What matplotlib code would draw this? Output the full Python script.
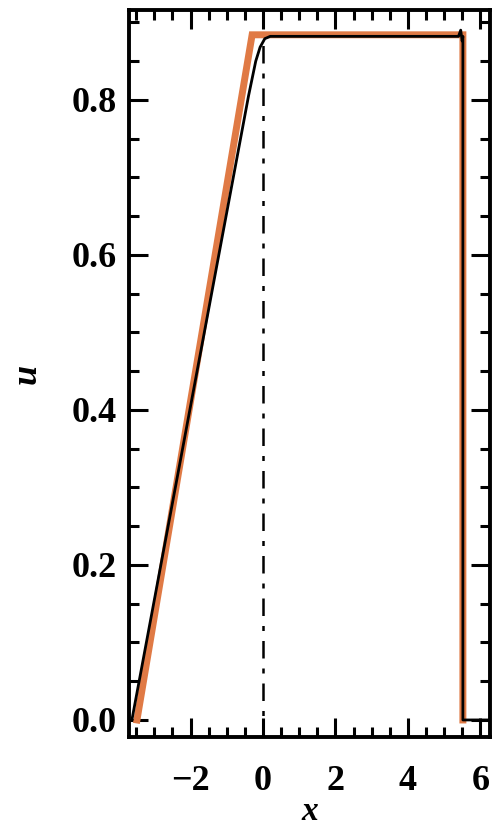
import matplotlib
matplotlib.use("Agg")
import matplotlib.pyplot as plt
from matplotlib.ticker import MultipleLocator

# exact (orange) solution
x_exact = [-3.48, -0.30, 5.52, 5.52]
u_exact = [0.0, 0.884, 0.884, 0.0]

# numerical (black) solution
x_num = [-3.62, -3.2, -2.0, -1.0, -0.4, -0.2, -0.08, 0.05, 0.2, 1.0, 2.0, 3.0, 4.0, 5.0, 5.40, 5.46, 5.50, 5.52, 5.52, 5.60, 6.3]
u_num = [0.0, 0.105, 0.405, 0.655, 0.805, 0.850, 0.868, 0.879, 0.882, 0.882, 0.882, 0.882, 0.882, 0.882, 0.882, 0.890, 0.876, 0.882, 0.0, 0.0, 0.0]

x_ticks = [-2, 0, 2, 4, 6]
y_ticks = [0.0, 0.2, 0.4, 0.6, 0.8]
y_ticklabels = ["0.0", "0.2", "0.4", "0.6", "0.8"]

fig = plt.figure(figsize=(4.95, 8.4), dpi=100)
ax = fig.add_axes([0.2606, 0.1226, 0.7294, 0.8655])

font = dict(family="Liberation Serif", weight="bold")

ax.plot(x_exact, u_exact, color="#e07a45", lw=5.0, solid_joinstyle="miter", zorder=2)
ax.plot(x_num, u_num, color="black", lw=2.0, zorder=3)
ax.plot([0, 0], [-0.03, 0.88], color="black", lw=1.8, ls=(0, (7, 4, 2, 4)), zorder=1)

ax.set_xlim(-3.70, 6.27)
ax.set_ylim(-0.022, 0.916)

ax.xaxis.set_major_locator(MultipleLocator(2))
ax.xaxis.set_minor_locator(MultipleLocator(0.5))
ax.yaxis.set_major_locator(MultipleLocator(0.2))
ax.yaxis.set_minor_locator(MultipleLocator(0.05))
ax.set_xticks(x_ticks)
ax.set_yticks(y_ticks)
ax.set_yticklabels(y_ticklabels)

ax.tick_params(which="both", direction="in", top=True, right=True, width=2.2, colors="black")
ax.tick_params(which="major", length=14)
ax.tick_params(which="minor", length=7)
ax.tick_params(axis="x", which="major", pad=20)
ax.tick_params(axis="y", which="major", pad=9)
for lab in ax.get_xticklabels() + ax.get_yticklabels():
    lab.set_fontfamily("Liberation Serif")
    lab.set_fontweight("bold")
    lab.set_fontsize(26)

for s in ax.spines.values():
    s.set_linewidth(2.8)

ax.set_xlabel("x", fontsize=24, style="italic", labelpad=-1, **font)
ax.set_ylabel("u", fontsize=26, style="italic", labelpad=20, **font)

fig.savefig("out.png", dpi=100)
